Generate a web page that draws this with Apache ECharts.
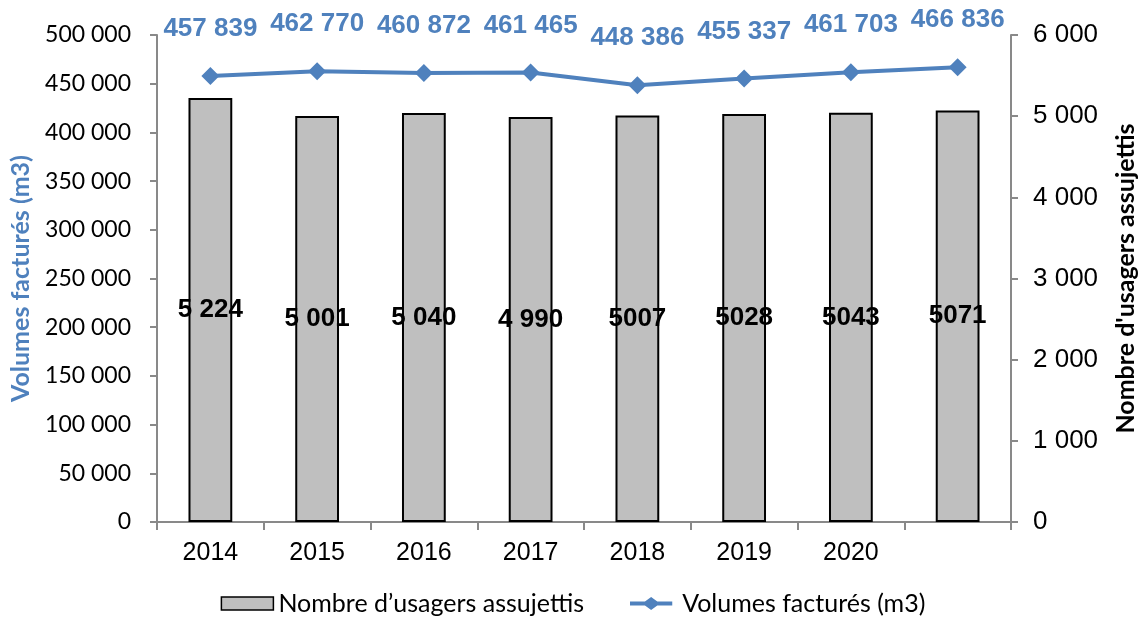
<!DOCTYPE html>
<html><head><meta charset="utf-8">
<script src="https://cdn.jsdelivr.net/npm/echarts@6/dist/echarts.min.js"></script>
<style>html,body{margin:0;padding:0;background:#fff}#c{width:1146px;height:621px}</style>
</head><body><div id="c"></div>
<script>
const categories = ['2014','2015','2016','2017','2018','2019','2020',''];
const usagers = [5224, 5001, 5040, 4990, 5007, 5028, 5043, 5071];
const usagersLabels = ['5 224','5 001','5 040','4 990','5007','5028','5043','5071'];
const volumes = [457839, 462770, 460872, 461465, 448386, 455337, 461703, 466836];
const volumesLabels = ['457 839','462 770','460 872','461 465','448 386','455 337','461 703','466 836'];
const leftTicks = {min: 0, max: 500000, interval: 50000};
const rightTicks = {min: 0, max: 6000, interval: 1000};

function fmt(v){ return String(v).replace(/\B(?=(\d{3})+(?!\d))/g, ' '); }

const blue = '#4F81BD';
const axisGray = '#898989';
const lineIcon = 'path://M0,5.6L18.4,5.6L26,0L33.6,5.6L52,5.6L52,10.4L33.6,10.4L26,16L18.4,10.4L0,10.4Z';
const chart = echarts.init(document.getElementById('c'), null, {renderer:'canvas'});
chart.setOption({
  animation: false,
  backgroundColor: '#fff',
  grid: {left: 157, right: 128, top: 35, bottom: 99, containLabel: false},
  legend: {
    bottom: 0, left: 'center', itemGap: 46,
    itemWidth: 52, itemHeight: 13,
    textStyle: {fontFamily: 'Lato', fontSize: 25, color: '#000'},
    data: [
      {name: 'Nombre d\u2019usagers assujettis', icon: 'rect', itemStyle: {color: '#BFBFBF', borderColor: '#000', borderWidth: 1.5}},
      {name: 'Volumes factur\u00e9s (m3)', icon: lineIcon, itemStyle: {color: blue, borderWidth: 0}}
    ]
  },
  xAxis: {
    type: 'category', data: categories,
    axisLine: {lineStyle: {color: axisGray, width: 2}},
    axisTick: {show: true, length: 8, lineStyle: {color: axisGray, width: 2}},
    axisLabel: {color: '#000', fontFamily: 'Liberation Sans', fontSize: 25, margin: 19}
  },
  yAxis: [
    {
      type: 'value', position: 'left', min: leftTicks.min, max: leftTicks.max, interval: leftTicks.interval,
      name: 'Volumes factur\u00e9s (m3)', nameLocation: 'middle', nameGap: 124, nameRotate: 90,
      nameTextStyle: {color: blue, fontFamily: 'Lato', fontWeight: 'bold', fontSize: 25},
      splitLine: {show: false},
      axisLine: {show: true, lineStyle: {color: axisGray, width: 2}},
      axisTick: {show: true, length: 7, lineStyle: {color: axisGray, width: 2}},
      axisLabel: {color: '#000', fontFamily: 'Lato', fontSize: 23, margin: 26, formatter: fmt}
    },
    {
      type: 'value', position: 'right', min: rightTicks.min, max: rightTicks.max, interval: rightTicks.interval,
      name: 'Nombre d\'usagers assujettis', nameLocation: 'middle', nameGap: 102, nameRotate: 90,
      nameTextStyle: {color: '#000', fontFamily: 'Lato', fontWeight: 'bold', fontSize: 25},
      splitLine: {show: false},
      axisLine: {show: true, lineStyle: {color: axisGray, width: 2}},
      axisTick: {show: true, length: 7, lineStyle: {color: axisGray, width: 2}},
      axisLabel: {color: '#000', fontFamily: 'Liberation Sans', fontSize: 26, margin: 22, formatter: fmt}
    }
  ],
  series: [
    {
      name: 'Nombre d\u2019usagers assujettis', type: 'bar', yAxisIndex: 1,
      data: usagers, barWidth: '41%',
      itemStyle: {color: '#BFBFBF', borderColor: '#000', borderWidth: 2},
      label: {
        show: true, position: 'inside',
        color: '#000', fontFamily: 'Liberation Sans', fontWeight: 'bold', fontSize: 26,
        formatter: p => usagersLabels[p.dataIndex]
      }
    },
    {
      name: 'Volumes factur\u00e9s (m3)', type: 'line', yAxisIndex: 0,
      data: volumes, symbol: 'diamond', symbolSize: 18,
      lineStyle: {color: blue, width: 4}, itemStyle: {color: blue},
      label: {
        show: true, position: 'top', distance: 25,
        color: blue, fontFamily: 'Liberation Sans', fontWeight: 'bold', fontSize: 26,
        formatter: p => volumesLabels[p.dataIndex]
      }
    }
  ]
});
</script></body></html>
